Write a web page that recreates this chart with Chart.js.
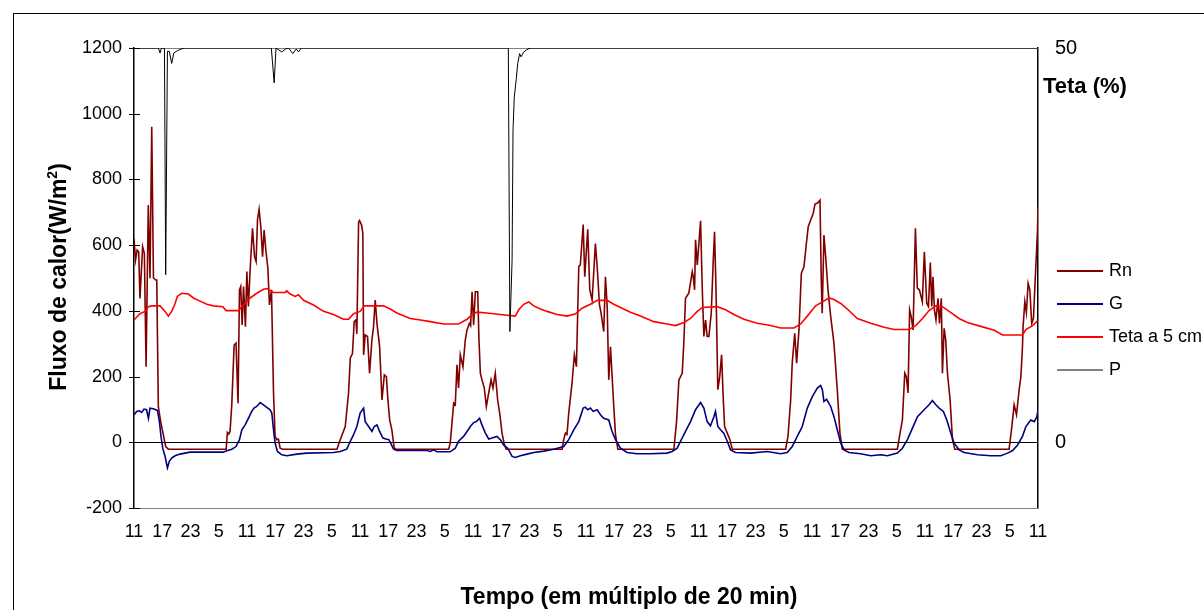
<!DOCTYPE html>
<html>
<head>
<meta charset="utf-8">
<script src="https://cdn.jsdelivr.net/npm/chart.js@4/dist/chart.umd.min.js"></script>
<style>
  html, body { margin: 0; padding: 0; background: #fff; }
  #wrap { position: relative; width: 1204px; height: 610px; overflow: hidden; font-family: 'Liberation Sans', Arial, sans-serif; color: #000; }
  #c { position: absolute; left: 0; top: 0; }
  .frame { position: absolute; left: 13px; top: 13px; width: 1300px; height: 700px; border: 1px solid #000; }
  .ytitle { position: absolute; left: 58px; top: 277px; transform: translate(-50%, -50%) rotate(-90deg); font-weight: bold; font-size: 23px; white-space: nowrap; }
  .ytitle sup { font-size: 14px; vertical-align: 9px; }
  .xtitle { position: absolute; left: 629px; top: 596px; transform: translate(-50%, -50%); font-weight: bold; font-size: 23px; white-space: nowrap; }
  .rtitle { position: absolute; left: 1043px; top: 86px; transform: translateY(-50%); font-weight: bold; font-size: 22px; white-space: nowrap; }
  .leg { position: absolute; left: 1057px; height: 20px; transform: translateY(-50%); white-space: nowrap; font-size: 18px; }
  .leg i { position: absolute; left: 0; top: 9px; width: 46px; height: 2px; }
  .leg span { position: absolute; left: 52px; top: -1px; }
</style>
</head>
<body>
<div id="wrap">
  <canvas id="c" width="1204" height="610"></canvas>
  <div class="frame"></div>
  <div class="ytitle">Fluxo de calor(W/m<sup>2</sup>)</div>
  <div class="xtitle">Tempo (em múltiplo de 20 min)</div>
  <div class="rtitle">Teta (%)</div>
  <div class="leg" style="top:271px"><i style="background:#800000"></i><span>Rn</span></div>
  <div class="leg" style="top:304px"><i style="background:#000080"></i><span>G</span></div>
  <div class="leg" style="top:337px"><i style="background:#ff0000"></i><span>Teta a 5 cm</span></div>
  <div class="leg" style="top:370px"><i style="background:#808080"></i><span>P</span></div>
</div>
<script>
// x = sample index (steps of 20 min), label every 18 steps (6 h)
const hourLabels = ['11','17','23','5','11','17','23','5','11','17','23','5','11','17','23','5','11',
  '17','23','5','11','17','23','5','11','17','23','5','11','17','23','5','11'];

// Rn (W/m2)
const rnData = [
  [0,620],[1,555],[2,585],[3,580],[3.8,438],[5.5,595],[6.6,575],[7.7,230],[9.1,722],[10.2,499],
  [11.3,960],[12.4,500],[13.8,494],[14.5,494],[15.5,109],[17,63],[18.7,23],[20.2,-13],[21.9,-21],
  [58.7,-21],[59.5,30],[60.4,25],[61.2,33],[62.3,114],[63.8,296],[65,302],[66.3,119],[67.2,464],
  [68,474],[68.9,357],[69.8,474],[71,352],[71.9,520],[72.9,413],[74,525],[75.5,651],[76.8,565],
  [77.8,550],[78.7,677],[79.7,709],[80.8,656],[81.9,565],[82.9,646],[84,585],[85.3,530],[86.3,418],
  [87.6,464],[88.9,150],[89.9,18],[91,8],[92,10],[93.1,-18],[94.8,-21],
  [129.3,-21],[131.4,8],[134.6,48],[136.7,150],[137.8,256],[139.2,270],[140.3,367],[141.4,372],
  [142,330],[143.1,670],[143.7,675],[145,661],[145.8,636],[146.3,266],[147.3,327],[148.8,322],
  [150.1,210],[151.6,312],[152.6,350],[153.7,433],[154.8,362],[156.5,291],[158,129],[159.5,205],
  [160.8,200],[161.8,129],[162.9,68],[164.3,38],[165.8,-18],[167,-21],
  [200.5,-21],[201.5,-2],[203.7,119],[204.7,114],[205.8,236],[206.8,165],[207.9,266],[209.6,230],
  [211.1,312],[212.2,342],[213.7,362],[214.5,355],[215.4,458],[216.4,357],[217.5,458],[219,458],
  [219.8,312],[220.7,210],[221.7,190],[223.2,165],[224.5,109],[226,150],[227.5,190],[228.7,165],
  [230.2,210],[231.7,129],[233,89],[234.5,28],[236,-8],[237.2,-21],
  [272.8,-21],[273.8,8],[274.9,28],[275.9,24],[277,89],[279.1,180],[280.6,266],[281.9,230],
  [283.4,535],[284.4,540],[286.2,663],[287.2,504],[289.1,648],[290.4,464],[291.9,433],[294,605],
  [295.1,535],[296.6,418],[297.6,393],[299.3,337],[300.4,504],[301.5,413],[302.5,190],[303.6,291],
  [305.7,109],[306.8,23],[308.3,-21],
  [344,-21],[345.7,63],[347.2,190],[349.3,210],[350.3,300],[351.4,438],[352,443],[353.5,454],
  [355.7,519],[356.3,505],[357.2,464],[357.8,616],[358.9,540],[361,674],[362.1,464],[363.1,322],
  [364.2,372],[365.2,322],[366.3,322],[367.8,393],[369.1,555],[369.9,641],[370.8,474],[372,160],
  [373.2,200],[374.4,266],[375.4,139],[376.3,48],[378,28],[379.7,8],[381.2,-21],
  [415.2,-21],[416.7,18],[418.4,129],[419.4,241],[421,332],[422.2,241],[423.7,342],[425.2,514],
  [426.9,535],[428.3,600],[429.6,656],[431.1,676],[432.8,697],[433.9,725],[435.6,728],[437.1,737],
  [437.9,494],[438.5,393],[439.6,631],[440.7,565],[442.2,464],[443.9,383],[446,301],[448.1,160],
  [449.8,28],[451.3,-21],
  [486.4,-21],[488.1,28],[489.6,68],[491.1,210],[492.1,200],[493.2,150],[494.2,403],[495.3,380],
  [496.4,342],[497.9,651],[499.1,469],[500.4,464],[502.3,428],[503.6,580],[505.1,423],[506.2,413],
  [507.4,547],[508.3,413],[509.1,504],[510,403],[511,372],[512.3,438],[513.2,362],[514.4,438],
  [515.1,210],[516.2,347],[517.2,312],[518.3,210],[520,129],[521.5,8],[523,-21],
  [557.6,-21],[559.1,38],[560.8,114],[562.3,84],[564,160],[565.1,200],[566.1,291],[566.5,352],
  [567.6,428],[568.6,395],[569.7,484],[570.8,464],[572,362],[573.1,377],[574.2,494],[575.7,646],
  [576,717]
];

// G (W/m2)
const gData = [
  [0,84],[1.7,94],[3.4,96],[4.9,91],[6.4,101],[8,99],[9.2,73],[10.2,104],[12.3,102],[14.9,97],
  [16.2,63],[17.2,18],[18.3,-18],[19.8,-43],[21.3,-78],[22.5,-58],[24,-48],[26.2,-41],[29.3,-36],
  [32.5,-33],[35.7,-30],[57,-30],[59.1,-26],[62.3,-21],[65,-13],[67.2,8],[68.7,38],[70.8,53],
  [72.9,73],[75,94],[76.5,104],[78.2,109],[80.4,121],[82.5,114],[84.6,106],[86.7,99],[87.8,89],
  [88.9,38],[89.9,-2],[91.4,-28],[94.2,-38],[97.4,-41],[103.8,-36],[110.1,-33],[127.1,-31],
  [131.4,-28],[135.6,-21],[137.8,3],[139.9,23],[142,48],[144.1,89],[146.3,104],[147.3,63],
  [149.5,48],[151.6,33],[153.1,48],[154.8,53],[156.5,33],[158.6,13],[160.5,10],[162.4,8],
  [165.4,-21],[167.5,-25],[186.6,-25],[188.8,-28],[191,-23],[193,-29],[201.5,-29],[204.7,-18],
  [206.8,3],[210,18],[212.2,33],[214.3,48],[216.4,60],[218.1,63],[220.2,73],[221.7,53],[223.9,28],
  [226,10],[228.1,13],[231.3,18],[233.4,8],[235.5,-8],[238.1,-18],[240.9,-43],[243,-46],
  [246.2,-41],[250.4,-36],[254.7,-31],[261.1,-27],[267.4,-21],[273.8,-13],[277,8],[280.2,38],
  [283.4,63],[286.2,104],[287.6,107],[289.1,99],[290.8,104],[292.5,94],[295.1,99],[297.2,84],
  [299.3,73],[302.5,68],[304.6,33],[306.8,8],[310,-18],[314.2,-31],[320.6,-35],[329.1,-35],
  [339.7,-33],[342.9,-28],[346.1,-18],[348.2,3],[351.4,33],[354.6,63],[357.8,99],[361,121],
  [363.1,104],[365.2,63],[367.3,50],[369.5,78],[370.5,94],[372,48],[373.7,38],[375.8,28],[378,3],
  [380.1,-23],[383.3,-31],[392.9,-33],[403.5,-28],[412,-35],[416.2,-31],[419.4,-13],[422.6,18],
  [425.8,48],[429,104],[432.2,139],[435.4,165],[437.5,173],[438.6,160],[439.6,124],[441.3,131],
  [443.9,109],[446,78],[448.1,38],[450.3,-2],[452.4,-23],[455.6,-31],[463,-35],[469.4,-41],
  [475.8,-38],[480,-41],[486.4,-33],[489.6,-18],[492.8,8],[496,43],[499.2,78],[503.4,99],
  [506.6,114],[508.7,127],[510.9,114],[513,104],[515.7,94],[517.9,68],[520.4,28],[522.5,-2],
  [525.7,-23],[528.9,-31],[537.4,-38],[545.9,-41],[552.3,-41],[556.6,-33],[559.8,-25],[563,-8],
  [566.1,18],[568.3,48],[571.4,68],[573.6,63],[575.3,78],[576,99]
];

// Teta a 5 cm (%), right axis
const tetaData = [
  [0,15.5],[3.8,16.3],[7,16.6],[9.2,17.2],[11.3,17.3],[16.6,17.3],[19.8,16.6],[21.9,16.0],
  [24,16.6],[26.2,17.6],[27.6,18.5],[30.4,18.9],[34.7,18.8],[37.8,18.3],[42.1,17.9],[46.4,17.5],
  [50.6,17.3],[56.6,17.2],[58.7,16.7],[66.5,16.7],[69.7,17.4],[74,18.3],[78.2,18.9],[82.5,19.4],
  [84.6,19.5],[88.9,19.0],[96.3,19.0],[97.4,19.2],[99.5,18.8],[102.7,18.5],[104.8,18.7],
  [108,18.0],[114.4,17.4],[120.8,16.6],[127.1,16.2],[133.5,15.6],[136.7,15.6],[139.9,16.3],
  [144.1,16.6],[146.7,17.3],[159,17.3],[163.3,16.9],[167.5,16.4],[176,15.7],[182.4,15.5],
  [188.8,15.3],[197.3,15.0],[206.8,15.0],[212.2,15.6],[215.4,16.2],[218.5,16.5],[224.9,16.4],
  [233.4,16.2],[243,16.0],[245.1,16.8],[248.3,17.5],[251.5,17.8],[254.7,17.3],[259,16.9],
  [263.2,16.6],[269.6,16.2],[276,16.0],[281.3,16.3],[285.5,17.0],[290.8,17.5],[295.1,18.0],
  [301.5,18.0],[305.7,17.5],[311,17.0],[316.3,16.5],[322.7,16.0],[331.2,15.3],[339.7,15.0],
  [345,14.8],[350.4,15.2],[354.6,15.7],[358.9,16.6],[362.1,17.1],[371.6,17.2],[376.9,16.8],
  [382.2,16.2],[388.6,15.6],[397.1,15.1],[405.6,14.8],[412,14.5],[420.5,14.5],[424.8,15.0],
  [429,16.0],[434.3,17.3],[438.6,17.8],[442.8,18.3],[446,18.1],[450.3,17.6],[454.5,16.9],
  [460.9,15.7],[469.4,15.1],[477.9,14.6],[484.3,14.3],[493.8,14.3],[498.1,14.8],[502.4,15.7],
  [506.6,16.7],[510.9,17.3],[515.1,17.2],[519.4,16.6],[525.7,15.7],[531,15.2],[539.6,14.7],
  [548.1,14.2],[553.4,13.6],[566.1,13.6],[568.3,14.3],[572.5,14.8],[575.7,15.4]
];

// P (precipitacao), hidden reversed axis
const pData = [
  [0,0],[15.5,0],[16.6,0.15],[17.5,0],[19.4,0],[20.2,6.9],[21.3,0.1],[22.5,0.1],[24,0.47],
  [25.4,0.15],[27,0.1],[29,0.05],[32,0],[87.5,0],[89.3,1.06],[90.5,0],[94.2,0.12],[96.5,0.03],
  [98.5,0],[101.2,0.17],[103.4,0.03],[104.8,0.12],[106.5,0],[238.5,0],[239.5,8.63],[240.9,6.45],
  [241.5,2.5],[242.3,1.49],[243.6,0.93],[244.5,0.47],[245.7,0.17],[246.6,0.27],[248.3,0.12],
  [250,0.06],[251.7,0.02],[253,0],[576,0]
];

const xy = arr => arr.map(p => ({ x: p[0], y: p[1] }));
const FONT = "'Liberation Sans', Arial, sans-serif";

// grey border of the plot area + tick marks crossing the left axis
const plotFrame = {
  id: 'plotFrame',
  beforeDatasetsDraw(chart) {
    const { ctx, chartArea: a } = chart;
    ctx.save();
    ctx.strokeStyle = '#808080';
    ctx.lineWidth = 1;
    ctx.strokeRect(a.left + 0.5, a.top + 0.5, a.right - a.left, a.bottom - a.top);
    ctx.restore();
  },
  afterDraw(chart) {
    const { ctx, chartArea: a } = chart;
    const ys = chart.scales.y;
    ctx.save();
    ctx.strokeStyle = '#000';
    ctx.lineWidth = 1;
    ys.ticks.forEach(t => {
      const py = Math.round(ys.getPixelForValue(t.value)) + 0.5;
      ctx.beginPath();
      ctx.moveTo(a.left - 5, py);
      ctx.lineTo(a.left + 6, py);
      ctx.stroke();
    });
    ctx.restore();
  }
};

new Chart(document.getElementById('c'), {
  type: 'line',
  data: {
    datasets: [
      { label: 'Rn', data: xy(rnData), borderColor: '#800000', borderWidth: 1.6, order: 4 },
      { label: 'G', data: xy(gData), borderColor: '#000080', borderWidth: 1.6, order: 3 },
      { label: 'Teta a 5 cm', data: xy(tetaData), borderColor: '#ff0000', borderWidth: 1.6, yAxisID: 'y1', order: 2 },
      { label: 'P', data: xy(pData), borderColor: '#000', borderWidth: 1, yAxisID: 'yP', order: 1 },
    ],
  },
  options: {
    responsive: false,
    animation: false,
    devicePixelRatio: 1,
    elements: { point: { radius: 0 }, line: { tension: 0 } },
    layout: { padding: { top: 48, left: 0, right: 0, bottom: 0 } },
    plugins: { legend: { display: false }, tooltip: { enabled: false } },
    scales: {
      x: {
        type: 'linear',
        min: 0,
        max: 576,
        afterBuildTicks: s => { s.ticks = hourLabels.map((_, i) => ({ value: i * 18 })); },
        afterFit: s => { s.height = 102; },
        ticks: {
          autoSkip: false,
          maxRotation: 0,
          padding: 13,
          color: '#000',
          font: { family: FONT, size: 18 },
          callback: v => hourLabels[Math.round(v / 18)],
        },
        grid: { display: false, drawTicks: false },
        border: { display: true, color: '#808080' },
      },
      y: {
        position: 'left',
        min: -200,
        max: 1200,
        afterFit: s => { s.width = 134; },
        ticks: {
          stepSize: 200,
          padding: 12,
          color: '#000',
          font: { family: FONT, size: 18 },
          callback: v => String(v),
        },
        grid: {
          drawTicks: false,
          color: c => (c.tick && c.tick.value === 0 ? '#000' : 'rgba(0,0,0,0)'),
        },
        border: { display: true, color: '#000', width: 1.5 },
      },
      y1: {
        position: 'right',
        min: -50 / 6,
        max: 50,
        afterBuildTicks: s => { s.ticks = [{ value: 0 }, { value: 50 }]; },
        afterFit: s => { s.width = 166; },
        ticks: { padding: 17, color: '#000', font: { family: FONT, size: 20 }, callback: v => String(v) },
        grid: { display: false, drawTicks: false },
        border: { display: true, color: '#000', width: 1.5 },
      },
      yP: {
        display: false,
        reverse: true,
        min: 0,
        max: 14,
      },
    },
  },
  plugins: [plotFrame],
});
</script>
</body>
</html>
